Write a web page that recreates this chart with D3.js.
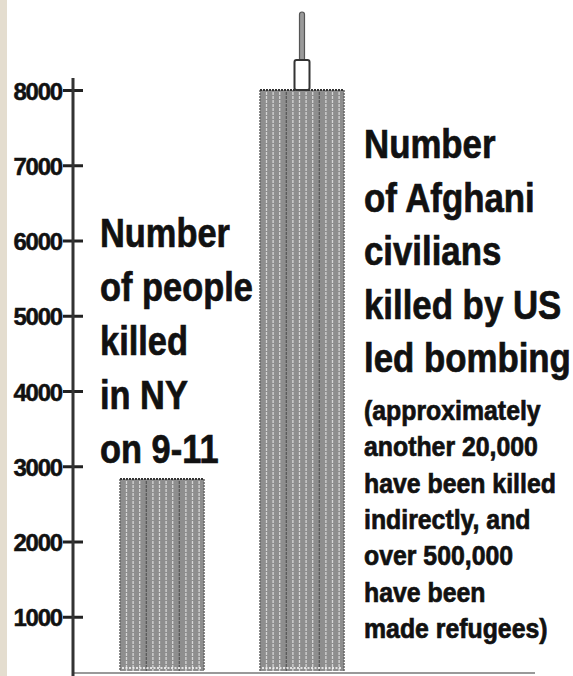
<!DOCTYPE html>
<html>
<head>
<meta charset="utf-8">
<script src="https://cdn.jsdelivr.net/npm/d3@7"></script>
<style>
  body { margin: 0; background: #fff; }
  text { font-family: "Liberation Sans", Arial, sans-serif; font-weight: bold; fill: #111; }
</style>
</head>
<body>
<div id="chart"></div>
<script>
// data
const categories = ['NY 9-11', 'Afghanistan'];
const deaths = [2830, 8000];
const tickValues = [1000, 2000, 3000, 4000, 5000, 6000, 7000, 8000];

const nyLabel = ['Number', 'of people', 'killed', 'in NY', 'on 9-11'];
const afLabel = ['Number', 'of Afghani', 'civilians', 'killed by US', 'led bombing'];
const afNote = ['(approximately', 'another 20,000', 'have been killed', 'indirectly, and',
  'over 500,000', 'have been', 'made refugees)'];

const width = 573, height = 676;

const svg = d3.select('#chart')
  .append('svg')
  .attr('width', width)
  .attr('height', height);

svg.append('rect').attr('width', width).attr('height', height).attr('fill', '#fff');
// beige strip on the left edge
svg.append('rect').attr('width', 7).attr('height', height).attr('fill', '#e4ddcf');

const y = d3.scaleLinear().domain([0, 8000]).range([692, 90]);
const x = d3.scaleBand()
  .domain(categories)
  .range([92, 372])
  .paddingInner(0.4)
  .paddingOuter(0.2);

const baseY = 671; // picture is cropped just above zero
const bw = x.bandwidth();

// bars
const bars = svg.selectAll('g.bar')
  .data(categories.map((c, i) => ({ cat: c, value: deaths[i] })))
  .enter()
  .append('g')
  .attr('class', 'bar')
  .attr('transform', d => `translate(${x(d.cat)},0)`);

bars.append('rect')
  .attr('y', d => y(d.value))
  .attr('width', bw)
  .attr('height', d => baseY - y(d.value))
  .attr('fill', '#8e8e8e');

// vertical stripes
bars.each(function(d) {
  const g = d3.select(this);
  const xs = d3.range(6.5, bw - 2, 6.6);
  g.selectAll('line.stripe')
    .data(xs)
    .enter()
    .append('line')
    .attr('x1', v => v).attr('x2', v => v)
    .attr('y1', y(d.value) + 2).attr('y2', baseY)
    .attr('stroke', (v, i) => (i % 5 === 3 ? '#555' : '#d6d6d6'))
    .attr('stroke-width', (v, i) => (i % 5 === 3 ? 1.2 : 1.3))
    .attr('stroke-dasharray', '3 1');
  g.append('line')
    .attr('x1', 0).attr('x2', 0)
    .attr('y1', y(d.value)).attr('y2', baseY)
    .attr('stroke', '#666').attr('stroke-width', 1.5).attr('stroke-dasharray', '2 1');
  g.append('line')
    .attr('x1', bw).attr('x2', bw)
    .attr('y1', y(d.value)).attr('y2', baseY)
    .attr('stroke', '#666').attr('stroke-width', 1.5).attr('stroke-dasharray', '2 1');
});

bars.append('line')
  .attr('x1', 0).attr('x2', bw)
  .attr('y1', d => y(d.value)).attr('y2', d => y(d.value))
  .attr('stroke', '#333').attr('stroke-width', 2).attr('stroke-dasharray', '2 1');

bars.append('line')
  .attr('x1', 2).attr('x2', bw - 2)
  .attr('y1', baseY - 3).attr('y2', baseY - 3)
  .attr('stroke', '#fff').attr('stroke-width', 1.5).attr('stroke-dasharray', '2 1.5');

// antenna on the taller tower
const tall = categories[1];
const cx = x(tall) + bw / 2;
const roofY = y(deaths[1]);
svg.append('rect')
  .attr('x', cx - 2.5).attr('y', roofY - 78)
  .attr('width', 5).attr('height', 50)
  .attr('rx', 2.5)
  .attr('fill', '#9a9a9a').attr('stroke', '#555').attr('stroke-width', 1.2);
svg.append('rect')
  .attr('x', cx - 7.5).attr('y', roofY - 30)
  .attr('width', 15).attr('height', 30)
  .attr('rx', 2)
  .attr('fill', '#fff').attr('stroke', '#333').attr('stroke-width', 2);

// bottom line
svg.append('line')
  .attr('x1', 73).attr('x2', 535)
  .attr('y1', 673).attr('y2', 673)
  .attr('stroke', '#777').attr('stroke-width', 1.5);

// y axis
const axis = d3.axisLeft(y)
  .tickValues(tickValues)
  .tickFormat(d3.format('d'))
  .tickSize(10)
  .tickPadding(1);
const gy = svg.append('g')
  .attr('transform', 'translate(73,0)')
  .call(axis);
gy.select('.domain').remove();
gy.selectAll('.tick line')
  .attr('x1', 10)
  .attr('stroke', '#222')
  .attr('stroke-width', 3);
gy.selectAll('.tick text')
  .attr('dy', '0.38em')
  .style('font-size', '24px')
  .style('font-family', '"Liberation Sans", Arial, sans-serif')
  .style('font-weight', 'bold')
  .style('fill', '#111')
  .style('stroke', '#111')
  .style('stroke-width', 0.5)
  .attr('letter-spacing', -1.2);

svg.append('line')
  .attr('x1', 73).attr('x2', 73)
  .attr('y1', 78).attr('y2', height)
  .attr('stroke', '#333').attr('stroke-width', 3);

// labels
function block(lines, x0, y0, step, size, sx) {
  svg.append('g')
    .selectAll('text')
    .data(lines)
    .enter()
    .append('text')
    .attr('transform', (d, i) => `translate(${x0},${y0 + i * step}) scale(${sx},1)`)
    .attr('font-size', size)
    .style('stroke', '#111')
    .style('stroke-width', 0.7)
    .text(d => d);
}

block(nyLabel, 100, 247, 54, 40, 0.86);
block(afLabel, 364, 158, 53.5, 40, 0.87);
block(afNote, 364, 420, 36.3, 27, 0.92);
</script>
</body>
</html>
